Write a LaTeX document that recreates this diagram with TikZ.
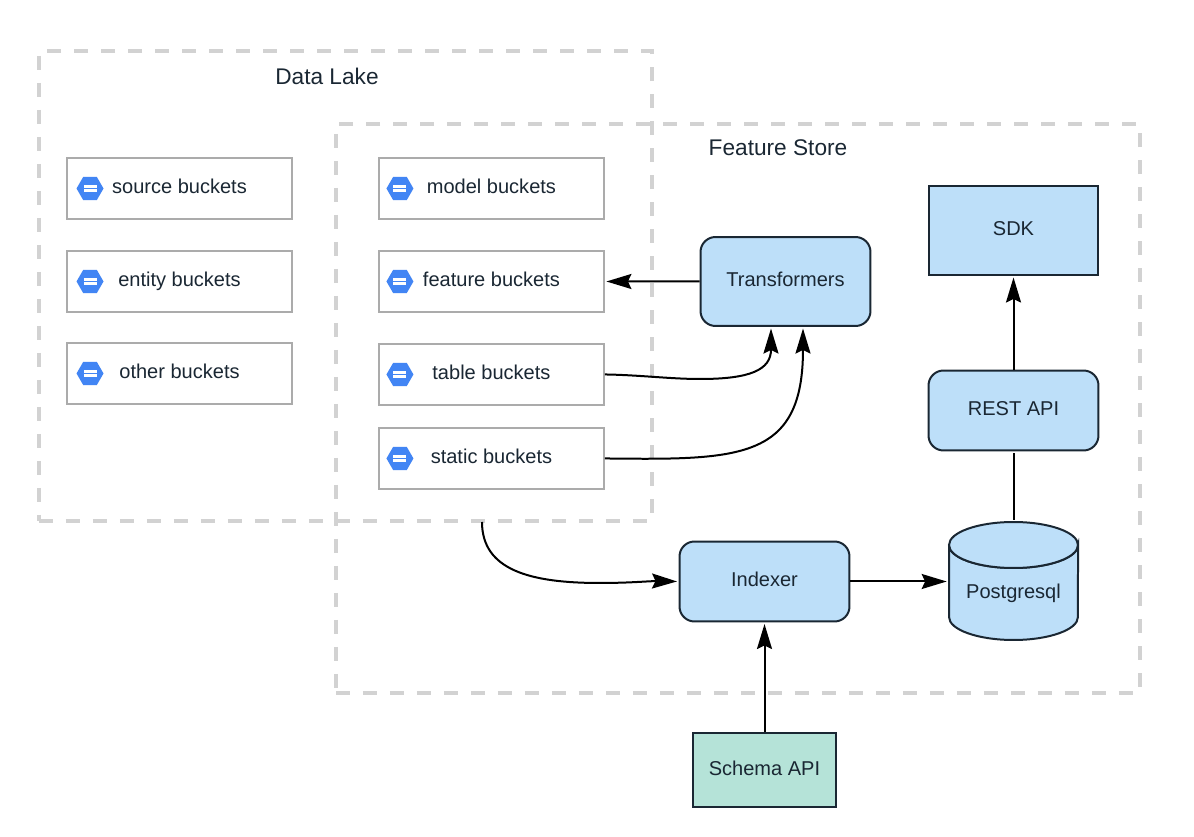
\documentclass[tikz,border=0pt]{standalone}
\usepackage{fontspec}
\setmainfont{Liberation Sans}
\usepackage{xcolor}
\usetikzlibrary{shapes.geometric, arrows.meta, positioning}
\definecolor{nodeblue}{HTML}{BDDFF9}
\definecolor{schemagreen}{HTML}{B5E3D8}
\definecolor{iconblue}{HTML}{4285F4}
\definecolor{darkline}{HTML}{1A2733}
\definecolor{dashgray}{HTML}{D2D2D2}
\definecolor{boxgray}{HTML}{ABABAB}

\begin{document}
\begin{tikzpicture}[
    x=0.02cm, y=-0.02cm,
    node distance=0.6cm and 1.7cm,
    every node/.style={text=darkline},
    zone/.style={rectangle, draw=dashgray, line width=0.08cm, dash pattern=on 0.28cm off 0.26cm},
    title/.style={font=\fontsize{12.9}{15}\selectfont},
    bucket/.style={rectangle, draw=boxgray, line width=0.04cm, fill=white, minimum width=4.5cm, minimum height=1.22cm, inner sep=0pt, text height=8.5pt, text depth=2.6pt, font=\fontsize{11.4}{14}\selectfont},
    icon/.style={regular polygon, regular polygon sides=6, fill=iconblue, minimum size=0.54cm, inner sep=0pt,
        path picture={
            \fill[white] ([xshift=-0.13cm,yshift=0.015cm]path picture bounding box.center) rectangle ([xshift=0.13cm,yshift=0.075cm]path picture bounding box.center);
            \fill[white] ([xshift=-0.13cm,yshift=-0.075cm]path picture bounding box.center) rectangle ([xshift=0.13cm,yshift=-0.015cm]path picture bounding box.center);
        }},
    service/.style={rectangle, draw=darkline, line width=0.04cm, fill=nodeblue, minimum width=3.4cm, minimum height=1.6cm, inner sep=0pt, text height=8.5pt, text depth=2.8pt, font=\fontsize{11.4}{14}\selectfont},
    round/.style={service, rounded corners=0.3cm},
    dbshell/.style={draw=darkline, line width=0.04cm, fill=nodeblue},
    database/.style={rectangle, minimum width=2.6cm, minimum height=2.38cm, inner sep=0pt, text height=20pt, text depth=0.6pt, font=\fontsize{11.4}{14}\selectfont},
    arrow/.style={-{Stealth[length=0.5cm,width=0.3cm,inset=0.07cm]}, line width=0.04cm, black, shorten >=0.03cm},
    wire/.style={line width=0.04cm, black, shorten <=0.04cm, shorten >=0.04cm},
]
    \useasboundingbox (0,0) rectangle (1194,837);

    \node[zone, minimum width=12.26cm, minimum height=9.4cm, anchor=north west] (lake) at (37,49) {};
    \node[zone, minimum width=16.08cm, minimum height=11.38cm, anchor=north west] (store) at (334,122) {};
    \node[title] (laketitle) at (327,76) {Data Lake};
    \node[title] (storetitle) at (778,148) {Feature Store};

    \node[bucket] (source) at (179.5,188.5) {source buckets};
    \node[bucket, below=of source] (entity) {entity buckets};
    \node[bucket, below=0.58cm of entity] (other) {other buckets};
    \node[bucket, right=of source] (model) {model buckets};
    \node[bucket, below=of model] (feature) {feature buckets};
    \node[bucket, below=of feature] (table) {table buckets};
    \node[bucket, below=0.42cm of table] (static) {static buckets};

    \node[icon] (sourceicon) at ([xshift=0.48cm]source.west) {};
    \node[icon] (entityicon) at ([xshift=0.48cm]entity.west) {};
    \node[icon] (othericon) at ([xshift=0.48cm]other.west) {};
    \node[icon] (modelicon) at ([xshift=0.44cm]model.west) {};
    \node[icon] (featureicon) at ([xshift=0.44cm]feature.west) {};
    \node[icon] (tableicon) at ([xshift=0.44cm]table.west) {};
    \node[icon] (staticicon) at ([xshift=0.44cm]static.west) {};

    \node[round, minimum height=1.78cm] (transformers) at (785.5,281.5) {Transformers};
    \node[service, minimum height=1.78cm] (sdk) at (1013.5,230.5) {SDK};
    \node[round] (rest) at (1013.5,410.5) {REST API};
    \node[round] (indexer) at (764.5,581.5) {Indexer};
    \node[service, fill=schemagreen, minimum width=2.88cm, minimum height=1.48cm] (schema) at (764.5,770) {Schema API};

    \draw[dbshell] (949,545) -- (949,617) arc[start angle=180, end angle=360, x radius=1.29cm, y radius=0.46cm] -- (1078,545) arc[start angle=0, end angle=-180, x radius=1.29cm, y radius=0.46cm];
    \draw[dbshell] (1013.5,545) ellipse[x radius=1.29cm, y radius=0.46cm];
    \node[database] (postgres) at (1013.5,581.5) {Postgresql};

    \coordinate (lakeout) at (482,522);
    \coordinate (tablein) at (771,327);
    \coordinate (staticin) at (803,327);

    \draw[arrow] (transformers) -- (feature);
    \draw[arrow] (table.east) .. controls (640,375) and (670,379) .. (700,379) .. controls (750,379) and (771,370) .. (tablein);
    \draw[arrow] (static.east) .. controls (740,460) and (803,460) .. (staticin);
    \draw[arrow] (lakeout) .. controls (482,570) and (530,583) .. (600,583) .. controls (630,583) and (650,581) .. (indexer.west);
    \draw[arrow] (indexer) -- (postgres);
    \draw[arrow] (schema) -- (indexer);
    \draw[arrow] (rest) -- (sdk);
    \draw[wire] (postgres) -- (rest);
\end{tikzpicture}
\end{document}
